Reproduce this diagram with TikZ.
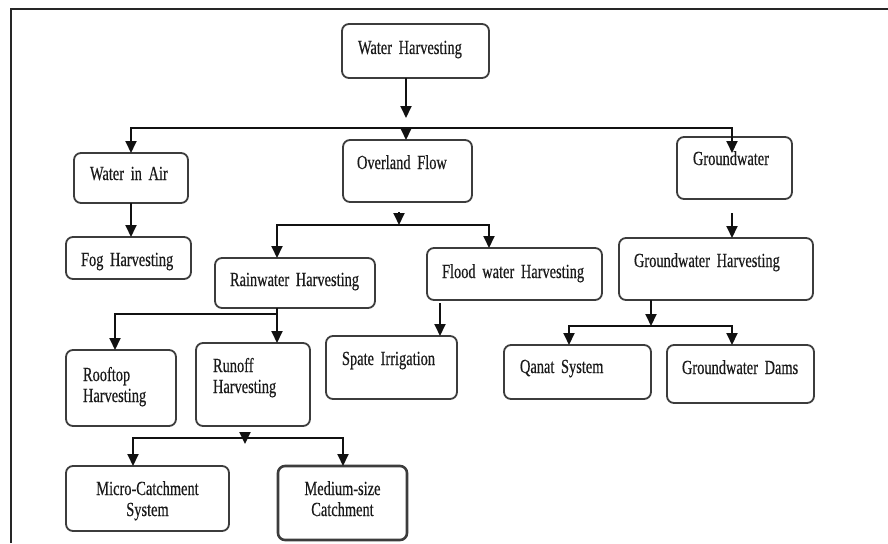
\documentclass[tikz,border=0pt]{standalone}
\usepackage{fontspec}
\setmainfont[FakeStretch=0.72,WordSpace=0.8,FakeBold=0.4]{Liberation Serif}
\usetikzlibrary{arrows.meta}
\definecolor{bc}{HTML}{3C3C3C}
\definecolor{tc}{HTML}{1A1A1A}
\definecolor{lc}{HTML}{111111}
\begin{document}
\begin{tikzpicture}[x=1pt,y=-1pt,
  box/.style={draw=bc, line width=1.8pt, rounded corners=7pt, fill=white,
    anchor=north west, inner ysep=0pt, outer sep=0pt, text=tc, align=left,
    font=\fontsize{20pt}{21pt}\selectfont},
  geo/.style n args={4}{inner xsep=#1, text width=#2, text height=#3, text depth=#4},
  arr/.style={draw=lc, line width=1.9pt, -{Triangle[width=11pt,length=12pt]}},
  frame/.style={draw=black!85, line width=2pt}
]
\useasboundingbox (0,0) rectangle (888,543);
\draw[frame] (11,543) -- (11,9) -- (888,9);

% boxes
\node[box, geo={16pt}{115pt}{30pt}{24pt}] (WH) at (342,24) {Water~Harvesting};
\node[box, geo={16pt}{82pt}{27pt}{23pt}] (WA) at (74,153) {Water~in~Air};
\node[box, geo={14pt}{101pt}{29pt}{33pt}] (OF) at (343,140) {Overland~Flow};
\node[box, geo={16pt}{83pt}{28pt}{34pt}] (GW) at (677,137) {Groundwater};
\node[box, geo={15pt}{95pt}{29pt}{13pt}] (FOG) at (66,237) {Fog~Harvesting};
\node[box, geo={15pt}{130pt}{28pt}{22pt}] (RH) at (215,258) {Rainwater~Harvesting};
\node[box, geo={15pt}{145pt}{30pt}{22pt}] (FWH) at (427,248) {Flood~water~Harvesting};
\node[box, geo={16pt}{99pt}{29pt}{34pt}] (SI) at (326,336) {Spate~Irrigation};
\node[box, geo={15pt}{164pt}{29pt}{33pt}] (GH) at (619,238) {Groundwater~Harvesting};
\node[box, geo={17pt}{76pt}{31pt}{45pt}] (RT) at (66,350) {Rooftop\\Harvesting};
\node[box, geo={17pt}{80pt}{29pt}{54pt}] (RO) at (196,343) {Runoff\\Harvesting};
\node[box, geo={16pt}{115pt}{28pt}{26pt}] (QS) at (504,345) {Qanat~System};
\node[box, geo={15pt}{117pt}{29pt}{29pt}] (GD) at (667,345) {Groundwater~Dams};
\node[box, align=center, geo={8pt}{147pt}{29pt}{36pt}] (MC) at (66,466) {Micro-Catchment\\System};
\node[box, align=center, line width=2.6pt, geo={8pt}{113pt}{29pt}{45pt}] (MS) at (278,466) {Medium-size\\Catchment};

% junctions
\coordinate (j1) at (406,128);
\coordinate (j2) at (399,225);
\coordinate (j3) at (277,314);
\coordinate (j4) at (245,438);
\coordinate (j5) at (651,326);

% connectors
\draw[arr, shorten >=10pt] ([xshift=-9.5pt]WH.south) -- (j1);
\draw[arr] (j1) -- ([xshift=-1.5pt]OF.north);
\draw[arr] (j1) -| (WA.north);
\draw[arr] (j1) -| ([xshift=-2.5pt,yshift=-16pt]GW.north);
\draw[arr] (WA.south) -- (WA.south |- FOG.north);

\draw[arr, shorten <=10pt] ([xshift=-8.5pt]OF.south) -- (j2);
\draw[arr] (j2) -| ([xshift=-18pt]RH.north);
\draw[arr] (j2) -| ([xshift=-25.5pt]FWH.north);
\draw[arr, shorten <=3pt] ([xshift=-74.5pt]FWH.south) -- ([xshift=-74.5pt]FWH.south |- SI.north);

\draw[arr] ([xshift=-18pt]RH.south) -- ([xshift=-18pt]RH.south |- RO.north);
\draw[arr] (j3) -| ([xshift=-6pt]RT.north);

\draw[arr, shorten <=6pt] ([xshift=-8pt]RO.south) -- ++(0,18);
\draw[arr] (j4) -| ([xshift=-14.5pt]MC.north);
\draw[arr] (j4) -| ([xshift=0.5pt]MS.north);

\draw[arr, shorten <=14pt] ([xshift=-2.5pt]GW.south) -- ([xshift=-2.5pt]GW.south |- GH.north);
\draw[arr] ([xshift=-65pt]GH.south) -- (j5);
\draw[arr] (j5) -| ([xshift=-8.5pt]QS.north);
\draw[arr] (j5) -| ([xshift=-8.5pt]GD.north);
\end{tikzpicture}
\end{document}
